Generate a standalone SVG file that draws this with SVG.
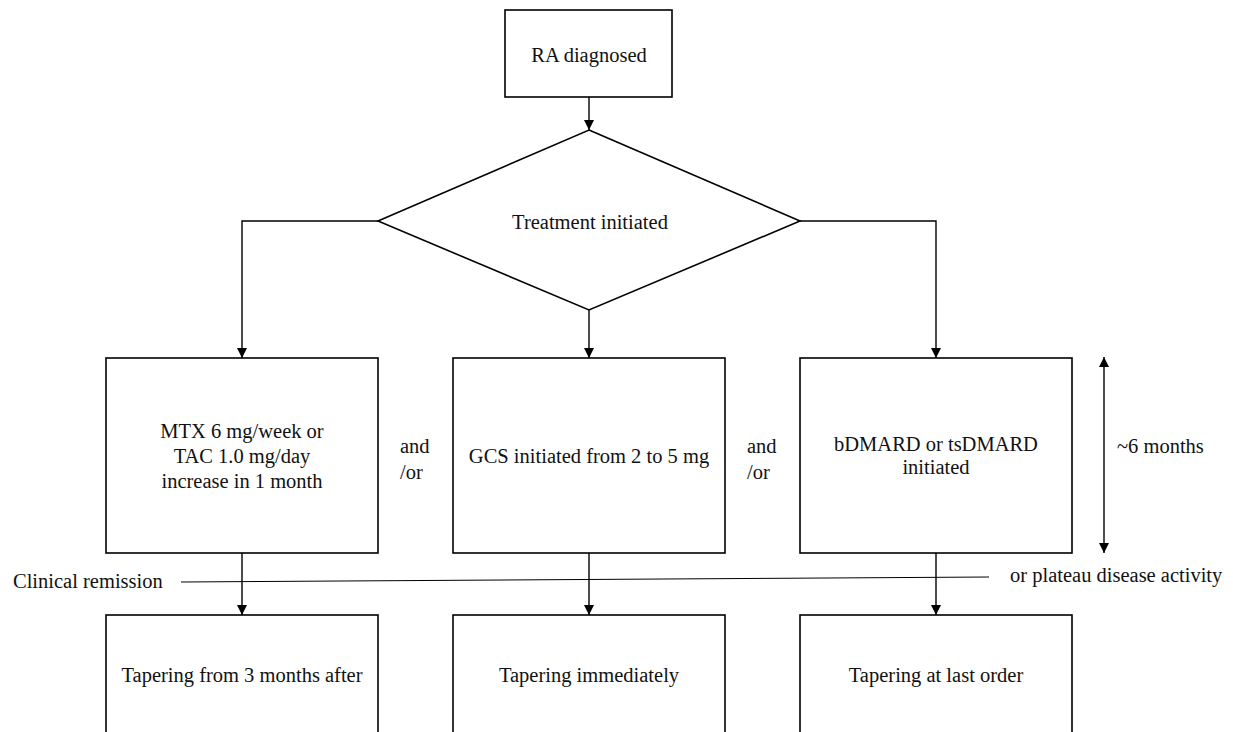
<svg xmlns="http://www.w3.org/2000/svg" width="1233" height="732" viewBox="0 0 1233 732">
<defs>
<marker id="ah" viewBox="0 0 10 10" refX="10" refY="5" markerWidth="10" markerHeight="10" markerUnits="userSpaceOnUse" orient="auto-start-reverse">
<path d="M0,0 L10,5 L0,10 z" fill="#000"/>
</marker>
<style>
.box{fill:#fff;stroke:#000;stroke-width:1.6}
.t{font-family:"Liberation Serif","Times New Roman",serif;font-size:20.5px;fill:#111;text-anchor:middle}
.tl{font-family:"Liberation Serif","Times New Roman",serif;font-size:20.5px;fill:#111}
.c{fill:none;stroke:#000;stroke-width:1.4}
</style>
</defs>
<rect width="1233" height="732" fill="#fff"/>
<g id="connectors">
<line class="c" x1="589" y1="97" x2="589" y2="130" marker-end="url(#ah)"/>
<polyline class="c" points="378,221 242,221 242,358" marker-end="url(#ah)"/>
<polyline class="c" points="800,221 936,221 936,358" marker-end="url(#ah)"/>
<line class="c" x1="589" y1="310" x2="589" y2="358" marker-end="url(#ah)"/>
<line class="c" x1="242" y1="553" x2="242" y2="615" marker-end="url(#ah)"/>
<line class="c" x1="589" y1="553" x2="589" y2="615" marker-end="url(#ah)"/>
<line class="c" x1="936" y1="553" x2="936" y2="615" marker-end="url(#ah)"/>
<line class="c" x1="1104" y1="357" x2="1104" y2="553" marker-start="url(#ah)" marker-end="url(#ah)"/>
<line x1="181" y1="582" x2="989" y2="577" stroke="#000" stroke-width="1"/>
</g>
<g id="ra">
<rect class="box" x="505" y="10" width="167" height="87"/>
<text class="t" x="589" y="62">RA diagnosed</text>
</g>
<g id="treatment">
<polygon class="box" points="589,130 800,221 589,310 378,221"/>
<text class="t" x="590" y="229">Treatment initiated</text>
</g>
<g id="mtx">
<rect class="box" x="106" y="358" width="272" height="195"/>
<text class="t" x="242" y="438">MTX 6 mg/week or</text>
<text class="t" x="242" y="463">TAC 1.0 mg/day</text>
<text class="t" x="242" y="488">increase in 1 month</text>
</g>
<g id="gcs">
<rect class="box" x="453" y="358" width="272" height="195"/>
<text class="t" x="589" y="463">GCS initiated from 2 to 5 mg</text>
</g>
<g id="bdmard">
<rect class="box" x="800" y="358" width="272" height="195"/>
<text class="t" x="936" y="451">bDMARD or tsDMARD</text>
<text class="t" x="936" y="474">initiated</text>
</g>
<g id="andor1">
<text class="tl" x="400" y="453">and</text>
<text class="tl" x="400" y="479">/or</text>
</g>
<g id="andor2">
<text class="tl" x="747" y="453">and</text>
<text class="tl" x="747" y="479">/or</text>
</g>
<g id="months">
<text class="tl" x="1117" y="453">~6 months</text>
</g>
<g id="remission">
<text class="tl" x="13" y="588">Clinical remission</text>
<text class="tl" x="1010" y="582">or plateau disease activity</text>
</g>
<g id="taper1">
<rect class="box" x="106" y="615" width="272" height="150"/>
<text class="t" x="242" y="682">Tapering from 3 months after</text>
</g>
<g id="taper2">
<rect class="box" x="453" y="615" width="272" height="150"/>
<text class="t" x="589" y="682">Tapering immediately</text>
</g>
<g id="taper3">
<rect class="box" x="800" y="615" width="272" height="150"/>
<text class="t" x="936" y="682">Tapering at last order</text>
</g>
</svg>
